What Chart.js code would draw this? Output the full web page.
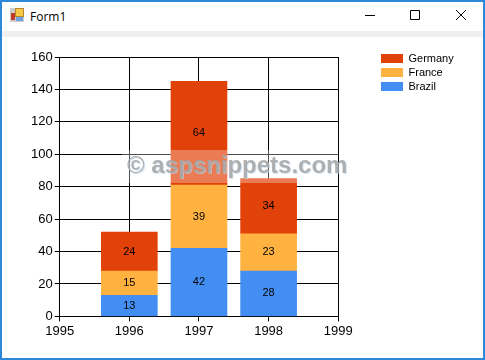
<!DOCTYPE html>
<html><head><meta charset="utf-8">
<style>
html,body{margin:0;padding:0;background:#fff;overflow:hidden}
#win{position:absolute;left:0;top:0;width:481px;height:356px;border:2px solid #2b88d8;background:#fff;overflow:hidden}
#strip{position:absolute;left:0;top:29px;width:481px;height:6px;background:#f0f0f0}
#title{position:absolute;left:28px;top:6px;font:12px "Open Sans",sans-serif;color:#000}
#chartbox{position:absolute;left:0;top:0;width:485px;height:360px}
svg{position:absolute;left:0;top:0}
</style></head><body>
<div id="win"><div id="strip"></div><div id="title">Form1</div></div>
<svg width="485" height="36">
<rect x="10" y="8" width="14" height="14" fill="#ccc"/>
<rect x="15.5" y="8.5" width="8" height="8" fill="#f7c948" stroke="#b8862b"/>
<rect x="11" y="13" width="4" height="7" fill="#c0392b"/>
<rect x="16" y="17" width="7" height="4" fill="#6fa0e0"/>
<path d="M365 15.5H375M410.5 10.5h9v9h-9zM456 10L466 20M466 10L456 20" stroke="#000" fill="none"/>
</svg>
<div id="chartbox"><canvas id="c" width="485" height="360"></canvas></div>
<script src="https://cdn.jsdelivr.net/npm/chart.js@4"></script>
<script>
const years = ['1995','1996','1997','1998','1999'];
const brazil = [null,13,42,28,null];
const france = [null,15,39,23,null];
const germany = [null,24,64,34,null];
const yTicks = [0,20,40,60,80,100,120,140,160];
const watermark = '© aspsnippets.com';

const barLabels = {
  id:'barLabels',
  afterDatasetsDraw(chart){
    const ctx = chart.ctx;
    ctx.save();
    ctx.font = '11px "Liberation Sans"';
    ctx.fillStyle = '#000';
    ctx.textAlign = 'center';
    ctx.textBaseline = 'middle';
    chart.data.datasets.forEach((ds,i)=>{
      chart.getDatasetMeta(i).data.forEach((el,j)=>{
        if(ds.data[j]==null) return;
        ctx.fillText(String(ds.data[j]), el.x, (el.y+el.base)/2);
      });
    });
    ctx.restore();
  }
};
const mark = {
  id:'mark',
  afterLayout(chart){
    const l = chart.legend;
    const w = l.right-l.left;
    l.left = 378; l.right = 378+w;
    const h = l.bottom-l.top;
    l.top = 50; l.bottom = 50+h;
  },
  afterDraw(chart){
    const ctx = chart.ctx;
    ctx.save();
    ctx.fillStyle = 'rgba(255,255,255,0.3)';
    ctx.fillRect(122,150,216,33);
    ctx.font = 'bold 24px "Liberation Sans"';
    ctx.textAlign = 'left';
    ctx.textBaseline = 'middle';
    ctx.fillStyle = 'rgba(190,215,240,0.6)';
    ctx.fillText(watermark,128,167);
    ctx.fillStyle = 'rgba(165,165,165,0.85)';
    ctx.fillText(watermark,127,166);
    ctx.restore();
  }
};
const tickFont = {family:'"Liberation Sans"',size:13};
new Chart(document.getElementById('c'),{
  type:'bar',
  data:{labels:years,datasets:[
    {label:'Brazil',data:brazil,backgroundColor:'#428ef2'},
    {label:'France',data:france,backgroundColor:'#ffb240'},
    {label:'Germany',data:germany,backgroundColor:'#e14209'}
  ]},
  options:{
    responsive:false,animation:false,
    barThickness:56,
    layout:{padding:{left:29,top:57,right:61,bottom:19}},
    scales:{
      x:{stacked:true,offset:false,
        grid:{color:'#000',lineWidth:1,tickLength:5,offset:false},
        border:{color:'#000'},
        ticks:{color:'#000',font:tickFont,padding:2,maxRotation:0,autoSkip:false}},
      y:{stacked:true,min:0,max:160,
        afterBuildTicks(s){s.ticks=yTicks.map(v=>({value:v}));},
        grid:{color:'#000',lineWidth:1,tickLength:5},
        border:{color:'#000'},
        ticks:{color:'#000',font:tickFont,padding:2}}
    },
    plugins:{
      tooltip:{enabled:false},
      legend:{position:'right',align:'start',reverse:true,
        labels:{boxWidth:22,boxHeight:9,padding:3,color:'#000',font:{family:'"Liberation Sans"',size:11}}}
    }
  },
  plugins:[barLabels,mark]
});
</script>
</body></html>
